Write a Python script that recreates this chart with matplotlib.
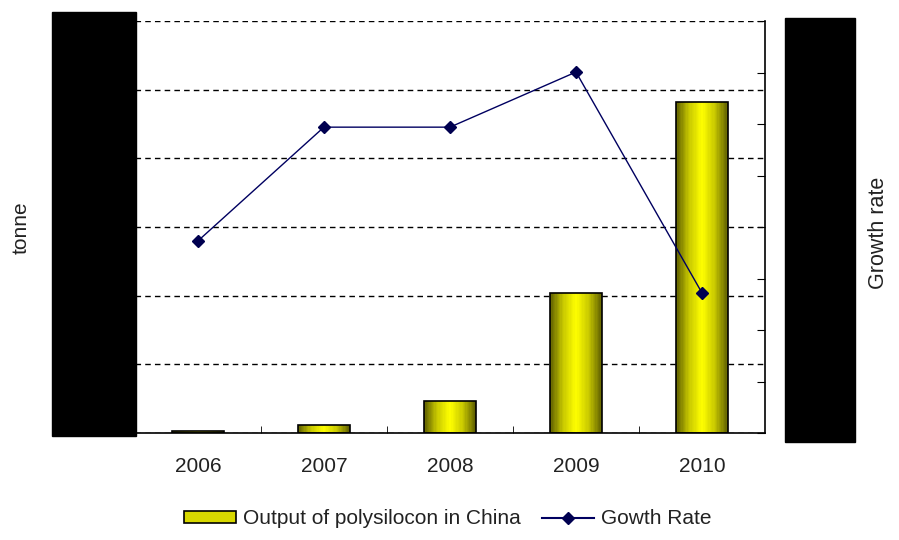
import numpy as np
import matplotlib
matplotlib.use("Agg")
import matplotlib.pyplot as plt
from matplotlib.patches import Rectangle, Patch
from matplotlib.lines import Line2D

plt.rcParams['font.family'] = ['Liberation Sans', 'DejaVu Sans']

# data
years = ["2006", "2007", "2008", "2009", "2010"]
output_tonne = [300, 1150, 4700, 20400, 48200]
growth_rate = [373, 594, 594, 701, 272]

fig = plt.figure(figsize=(8.99, 5.4), dpi=100)
ax = fig.add_axes([0.150, 0.198, 0.701, 0.763])
ax2 = ax.twinx()

x = np.arange(len(years))
bar_w = 0.41

# yellow bars with a horizontal shading (dark edges, bright middle),
# built from thin vertical slices of each bar
cmap = matplotlib.colors.LinearSegmentedColormap.from_list(
    "ylw", ["#5e5e00", "#c8c800", "#ffff00", "#c8c800", "#5e5e00"])
n_slices = 40
slice_w = bar_w / n_slices
for i in range(n_slices):
    offset = -bar_w / 2 + (i + 0.5) * slice_w
    ax.bar(x + offset, output_tonne, width=slice_w * 1.05,
           color=cmap((i + 0.5) / n_slices), linewidth=0, zorder=2)
ax.bar(x, output_tonne, width=bar_w, fill=False, edgecolor="black",
       linewidth=1.2, zorder=3)

ax.set_xlim(-0.5, 4.5)
ax.set_ylim(0, 60000)
ax.set_yticks(np.arange(0, 60001, 10000))
ax.yaxis.grid(True, linestyle=(0, (4, 3)), color="black", linewidth=1.0)
ax.set_axisbelow(True)
ax.set_yticklabels([])
ax.tick_params(axis="y", length=0)

ax.set_xticks(x)
ax.set_xticklabels(years, fontsize=15, color="#222222")
ax.set_xticks(np.arange(0.5, 4.5, 1), minor=True)
ax.tick_params(axis="x", which="major", length=0, pad=17)
ax.tick_params(axis="x", which="minor", direction="in", length=5, color="black")

for s in ["top", "left", "right"]:
    ax.spines[s].set_visible(False)
ax.spines["bottom"].set_linewidth(1.2)

ax2.plot(x, growth_rate, color="#000060", linewidth=1.0, marker="D",
         markersize=6, markerfacecolor="#000050", markeredgecolor="#000050",
         zorder=5)
ax2.set_ylim(0, 800)
ax2.set_yticks(np.arange(0, 801, 100))
ax2.set_yticklabels([])
ax2.tick_params(axis="y", direction="in", length=6, color="black")
for s in ["top", "left", "bottom"]:
    ax2.spines[s].set_visible(False)
ax2.spines["right"].set_linewidth(1.2)
ax2.set_zorder(ax.get_zorder() + 1)
ax2.patch.set_visible(False)

# black boxes over the value labels
fig.patches.append(Rectangle((52 / 899, 104 / 540), 84 / 899, 424 / 540,
                             transform=fig.transFigure, color="black", zorder=10))
fig.patches.append(Rectangle((785 / 899, 98 / 540), 70 / 899, 424 / 540,
                             transform=fig.transFigure, color="black", zorder=10))

fig.text(21 / 899, 1 - 228 / 540, "tonne", rotation=90, ha="center",
         va="center", fontsize=15, color="#222222")
fig.text(878 / 899, 1 - 233 / 540, "Growth rate", rotation=90, ha="center",
         va="center", fontsize=15.5, color="#222222")

handles = [Patch(facecolor="#d8d800", edgecolor="black", linewidth=1.2),
           Line2D([0], [0], color="#000060", marker="D", markersize=6,
                  markerfacecolor="#000050", markeredgecolor="#000050")]
fig.legend(handles, ["Output of polysilocon in China", "Gowth Rate"],
           loc="center", bbox_to_anchor=(448 / 899, 1 - 519 / 540), ncol=2,
           frameon=False, fontsize=15, handlelength=2.5, handleheight=0.5,
           handletextpad=0.35, columnspacing=1.0, labelcolor="#222222",
           borderpad=0, borderaxespad=0)

fig.savefig("out.png", dpi=100)
